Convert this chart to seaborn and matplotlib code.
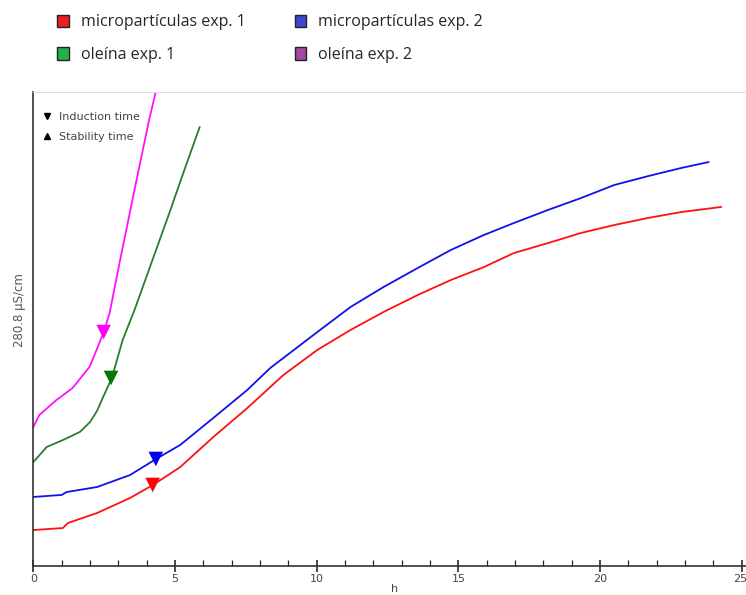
import pandas as pd
import seaborn as sns
import matplotlib.pyplot as plt
import matplotlib.transforms as mtransforms
from matplotlib.patches import Patch
from matplotlib.lines import Line2D
from matplotlib.ticker import MultipleLocator

# curves (h, uS/cm)
red_h = [0, 1.04, 1.22, 2.25, 3.41, 4.22, 5.18, 6.35, 7.55, 8.36, 8.82, 10.02, 11.19,
         12.36, 13.56, 14.73, 15.90, 16.96, 18.16, 19.33, 20.50, 21.70, 22.87, 24.28]
red_v = [21.3, 22.5, 25.5, 31.4, 40.3, 48.0, 58.6, 76.4, 93.6, 106.0, 113.1, 128.0, 139.8,
         150.5, 160.5, 169.4, 177.1, 185.4, 191.3, 197.3, 202.0, 206.2, 209.7, 212.7]

blue_h = [0, 1.0, 1.17, 2.25, 3.41, 4.33, 5.18, 6.35, 7.55, 8.36, 8.82, 10.02, 11.19,
          12.36, 13.56, 14.73, 15.90, 16.96, 18.16, 19.33, 20.50, 21.70, 22.87, 23.83]
blue_v = [40.9, 42.1, 43.8, 46.8, 53.9, 63.4, 71.7, 87.7, 104.3, 117.3, 123.2, 138.6, 153.4,
          165.3, 176.5, 187.2, 196.1, 203.2, 210.9, 218.0, 225.7, 231.0, 235.8, 239.3]

green_h = [0, 0.47, 1.04, 1.64, 2.0, 2.25, 2.46, 2.77, 3.15, 3.57, 4.10, 4.81, 5.34, 5.87]
green_v = [61.6, 70.5, 74.6, 79.4, 85.3, 92.0, 100.1, 111.4, 133.9, 151.7, 176.5, 209.7, 235.2, 260.1]

mag_h = [0, 0.21, 0.81, 1.38, 1.98, 2.23, 2.48, 2.69, 3.04, 3.40, 3.75, 4.10, 4.46]
mag_v = [82.3, 89.5, 98.3, 105.4, 117.9, 128.0, 138.6, 149.9, 179.5, 209.1, 237.6, 265.4, 290.9]

# induction time points
ind_series = ["micropartículas exp. 1", "micropartículas exp. 2", "oleína exp. 1", "oleína exp. 2"]
ind_h = [4.21, 4.32, 2.74, 2.48]
ind_v = [48.0, 63.4, 111.4, 138.6]

names = ind_series
line_cols = {names[0]: "#ff1010", names[1]: "#1010f0", names[2]: "#2b7d2b", names[3]: "#ff10ff"}
mark_cols = {names[0]: "#ff0000", names[1]: "#0000ee", names[2]: "#007a00", names[3]: "#ff00ff"}
legend_cols = ["#ee1c24", "#22b14c", "#3f48cc", "#a349a4"]

frames = []
for n, hh, vv in zip(names, [red_h, blue_h, green_h, mag_h], [red_v, blue_v, green_v, mag_v]):
    frames.append(pd.DataFrame({"h": hh, "v": vv, "serie": n}))
df = pd.concat(frames, ignore_index=True)
df_ind = pd.DataFrame({"h": ind_h, "v": ind_v, "serie": ind_series})

sns.set_style("white")
plt.rcParams["font.family"] = ["DejaVu Sans"]

fig = plt.figure(figsize=(7.46, 5.95), dpi=100)
ax = fig.add_axes([33.4 / 746, 29 / 595, 1 - 33.4 / 746, 474 / 595])

sns.lineplot(data=df, x="h", y="v", hue="serie", palette=line_cols, sort=False,
             estimator=None, linewidth=1.3, legend=False, ax=ax)
sns.scatterplot(data=df_ind, x="h", y="v", hue="serie", palette=mark_cols, marker="v",
                s=110, linewidth=0, legend=False, ax=ax, zorder=5)

ax.set_xlim(0, 25.15)
ax.set_ylim(0, 280.8)
ax.set_yticks([])
ax.xaxis.set_major_locator(MultipleLocator(5))
ax.xaxis.set_minor_locator(MultipleLocator(1))
ax.tick_params(axis="x", which="major", direction="inout", length=8, width=1.2,
               labelsize=8, labelcolor="#444444", pad=2, bottom=True)
ax.tick_params(axis="x", which="minor", direction="in", length=4, width=0.9, bottom=True)
ax.set_xlabel("")
ax.set_ylabel("280.8 µS/cm", fontsize=8.5, color="#555555")
ax.yaxis.set_label_coords(-0.011, 0.54)

# keep the last tick label "25" inside the picture
fig.canvas.draw()
for lb in ax.get_xticklabels():
    if lb.get_text() == "25":
        lb.set_horizontalalignment("right")
        lb.set_transform(lb.get_transform() +
                         mtransforms.ScaledTranslation(4 / 72, 0, fig.dpi_scale_trans))

for s in ["left", "bottom"]:
    ax.spines[s].set_color("#333333")
    ax.spines[s].set_linewidth(1.2)
ax.spines["top"].set_color("#dddddd")
ax.spines["top"].set_linewidth(0.8)
ax.spines["right"].set_visible(False)

fig.text(395 / 746, 0.002, "h", fontsize=8, color="#444444", ha="center", va="bottom")

# small legend for the markers inside the plot
mk = [Line2D([], [], color="black", marker="v", linestyle="none", markersize=5),
      Line2D([], [], color="black", marker="^", linestyle="none", markersize=5)]
ax.legend(mk, ["Induction time", "Stability time"], loc="upper left", frameon=False,
          fontsize=8, labelcolor="#444444", handletextpad=0.6, labelspacing=0.95,
          borderaxespad=0.0, bbox_to_anchor=(0.005, 0.968), handlelength=1.0)

# legend of the series at the top
handles = [Patch(facecolor=c, edgecolor="#222222", linewidth=1.0) for c in legend_cols]
labels = ["micropartículas exp. 1", "oleína exp. 1", "micropartículas exp. 2", "oleína exp. 2"]
fig.legend(handles, labels, ncol=2, loc="upper left", bbox_to_anchor=(43 / 746, 1.0),
           frameon=False, prop={"family": "Open Sans", "size": 11.5}, handlelength=0.7,
           handleheight=0.8, handletextpad=0.75, columnspacing=3.1, labelspacing=1.05)

plt.savefig("out.png", dpi=100)
